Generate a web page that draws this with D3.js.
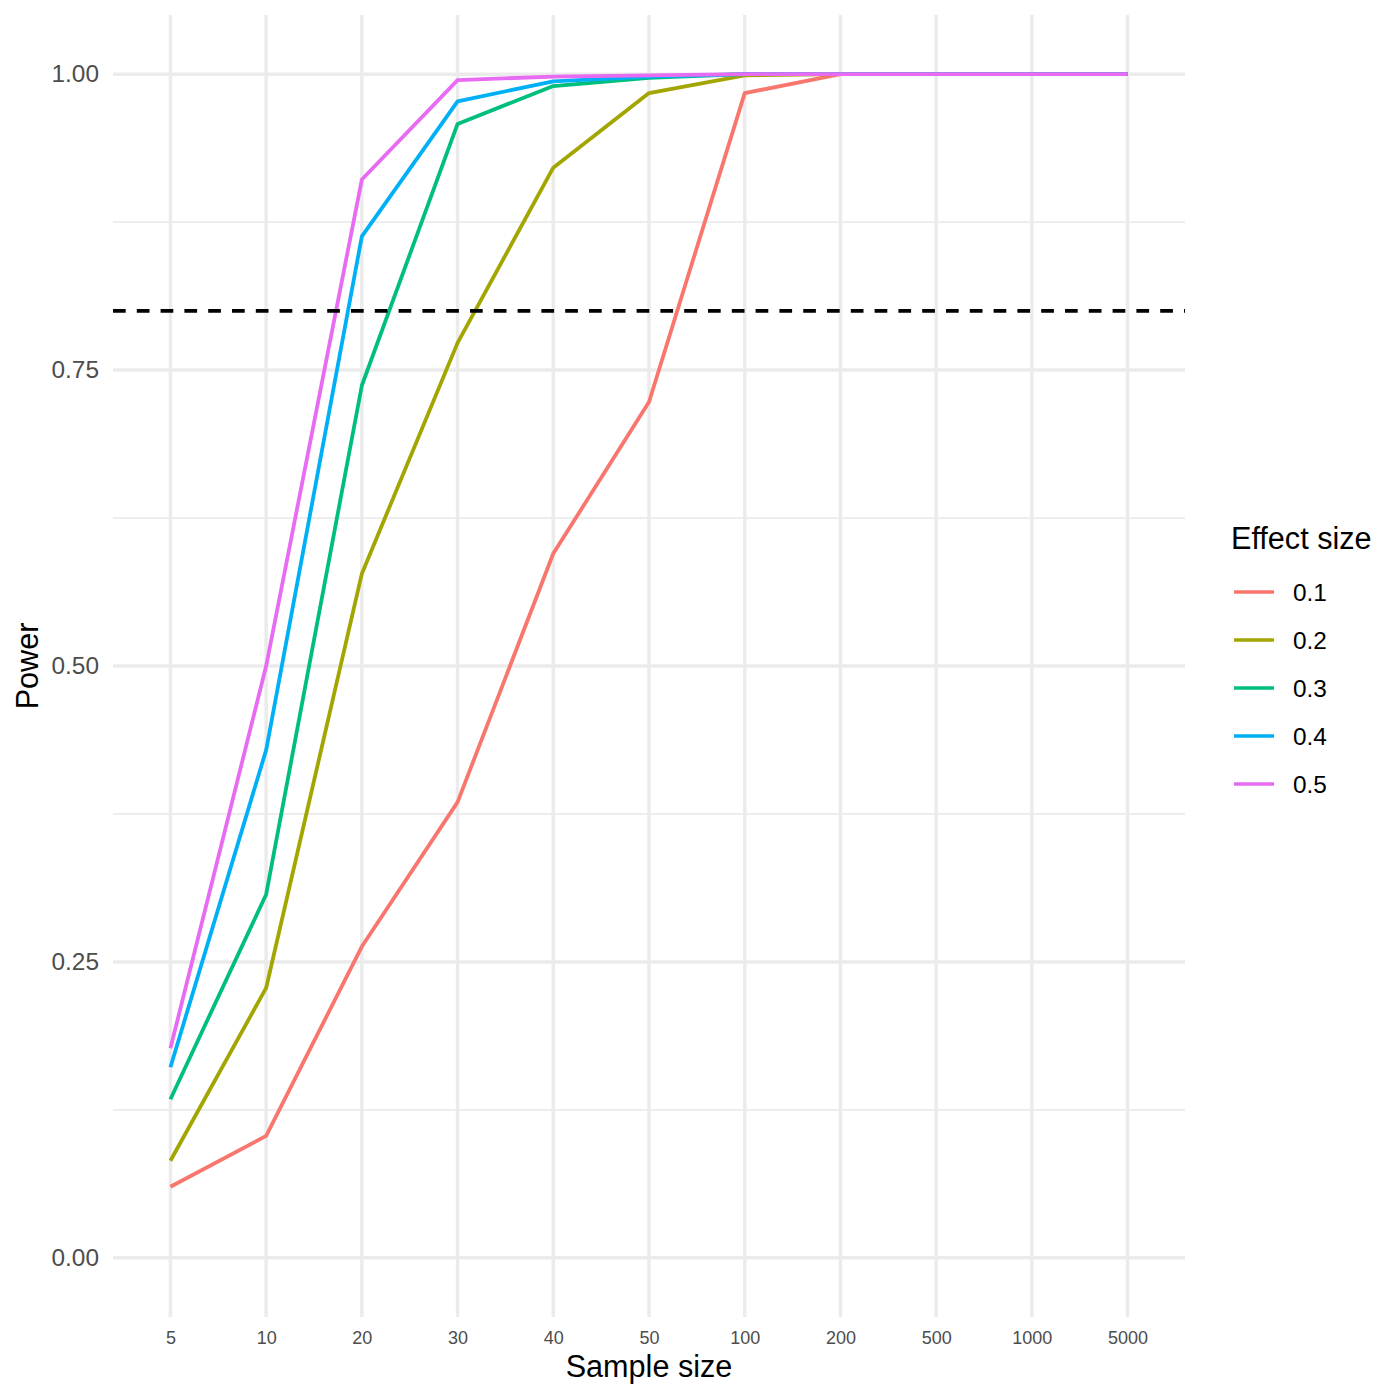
<!DOCTYPE html>
<html>
<head>
<meta charset="utf-8">
<script src="https://cdn.jsdelivr.net/npm/d3@7"></script>
<style>
  html, body { margin: 0; padding: 0; background: #fff; }
  svg { display: block; font-family: "Liberation Sans", Arial, Helvetica, sans-serif; }
</style>
</head>
<body>
<svg id="chart" width="1400" height="1400"></svg>
<script>
// ---- data ----
const sampleSizes = ["5", "10", "20", "30", "40", "50", "100", "200", "500", "1000", "5000"];
const effectSizes = ["0.1", "0.2", "0.3", "0.4", "0.5"];
const power01 = [0.060, 0.103, 0.263, 0.385, 0.595, 0.723, 0.984, 1, 1, 1, 1];
const power02 = [0.082, 0.228, 0.578, 0.773, 0.921, 0.984, 0.999, 1, 1, 1, 1];
const power03 = [0.134, 0.307, 0.737, 0.958, 0.990, 0.997, 1, 1, 1, 1, 1];
const power04 = [0.161, 0.429, 0.863, 0.977, 0.994, 0.998, 1, 1, 1, 1, 1];
const power05 = [0.177, 0.500, 0.911, 0.995, 0.998, 0.999, 1, 1, 1, 1, 1];
const yTicks = [0, 0.25, 0.5, 0.75, 1];
const yMinorTicks = [0.125, 0.375, 0.625, 0.875];
const targetPower = 0.8;
const colors = ["#F8766D", "#A3A500", "#00BF7D", "#00B0F6", "#E76BF3"];

const seriesValues = [power01, power02, power03, power04, power05];
const series = effectSizes.map((e, i) => ({
  key: e,
  color: colors[i],
  values: sampleSizes.map((s, j) => ({ n: s, p: seriesValues[i][j] }))
}));

// ---- layout ----
const panel = { left: 113, right: 1185, top: 15, bottom: 1317 };
const svg = d3.select("#chart");

const x = d3.scalePoint().domain(sampleSizes).range([panel.left, panel.right]).padding(0.6);
const y = d3.scaleLinear().domain([-0.05, 1.05]).range([panel.bottom, panel.top]);

const gridColor = "#EBEBEB";

// minor grid
svg.append("g").selectAll("line").data(yMinorTicks).join("line")
  .attr("x1", panel.left).attr("x2", panel.right)
  .attr("y1", d => y(d)).attr("y2", d => y(d))
  .attr("stroke", gridColor).attr("stroke-width", 1.7);

// major grid
svg.append("g").selectAll("line").data(yTicks).join("line")
  .attr("x1", panel.left).attr("x2", panel.right)
  .attr("y1", d => y(d)).attr("y2", d => y(d))
  .attr("stroke", gridColor).attr("stroke-width", 3.5);
svg.append("g").selectAll("line").data(sampleSizes).join("line")
  .attr("x1", d => x(d)).attr("x2", d => x(d))
  .attr("y1", panel.top).attr("y2", panel.bottom)
  .attr("stroke", gridColor).attr("stroke-width", 3.5);

// lines
const line = d3.line().x(d => x(d.n)).y(d => y(d.p));
svg.append("g").selectAll("path").data(series).join("path")
  .attr("d", d => line(d.values))
  .attr("fill", "none")
  .attr("stroke", d => d.color)
  .attr("stroke-width", 3.8)
  .attr("stroke-linejoin", "round");

// target line
svg.append("line")
  .attr("x1", panel.left).attr("x2", panel.right)
  .attr("y1", y(targetPower)).attr("y2", y(targetPower))
  .attr("stroke", "#000").attr("stroke-width", 3.7)
  .attr("stroke-dasharray", "12.7 11.1");

// axes
const yAxis = svg.append("g")
  .attr("transform", `translate(${panel.left},0)`)
  .call(d3.axisLeft(y).tickValues(yTicks).tickFormat(d3.format(".2f")).tickSize(0).tickPadding(14));
yAxis.select(".domain").remove();
yAxis.selectAll("text")
  .attr("fill", "#4D4D4D")
  .style("font-size", "24.4px")
  .style("font-family", '"Liberation Sans", Arial, sans-serif');

const xAxis = svg.append("g")
  .attr("transform", `translate(0,${panel.bottom})`)
  .call(d3.axisBottom(x).tickSize(0).tickPadding(14));
xAxis.select(".domain").remove();
xAxis.selectAll("text")
  .attr("fill", "#4D4D4D")
  .style("font-size", "18px")
  .style("font-family", '"Liberation Sans", Arial, sans-serif');

// axis titles
svg.append("text")
  .attr("x", (panel.left + panel.right) / 2)
  .attr("y", 1377)
  .attr("text-anchor", "middle")
  .attr("fill", "#000")
  .style("font-size", "30.6px")
  .text("Sample size");

svg.append("text")
  .attr("transform", `translate(38,${(panel.top + panel.bottom) / 2}) rotate(-90)`)
  .attr("text-anchor", "middle")
  .attr("fill", "#000")
  .style("font-size", "30.6px")
  .text("Power");

// legend
const legend = svg.append("g");
legend.append("text")
  .attr("x", 1231)
  .attr("y", 549)
  .attr("fill", "#000")
  .style("font-size", "30.6px")
  .text("Effect size");

const items = legend.selectAll("g.item").data(series).join("g")
  .attr("class", "item")
  .attr("transform", (d, i) => `translate(0,${592 + i * 48})`);
items.append("line")
  .attr("x1", 1234).attr("x2", 1274)
  .attr("y1", 0).attr("y2", 0)
  .attr("stroke", d => d.color).attr("stroke-width", 3.6);
items.append("text")
  .attr("x", 1293)
  .attr("y", 0)
  .attr("dy", "0.36em")
  .attr("fill", "#000")
  .style("font-size", "24.4px")
  .text(d => d.key);
</script>
</body>
</html>
